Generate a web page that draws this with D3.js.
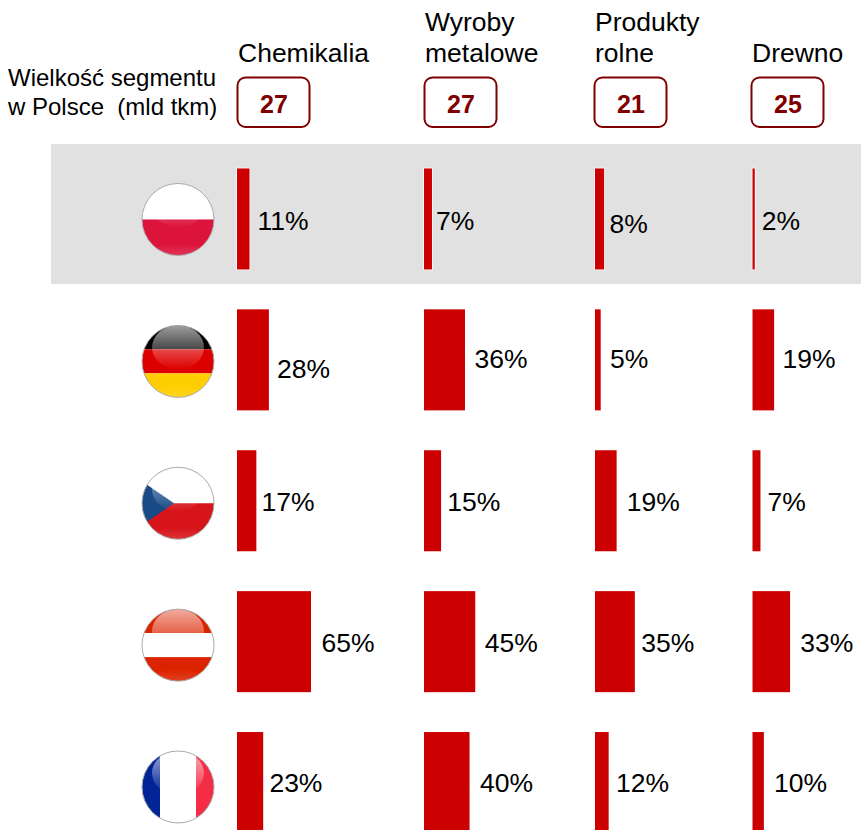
<!DOCTYPE html>
<html>
<head>
<meta charset="utf-8">
<script src="https://cdn.jsdelivr.net/npm/d3@7"></script>
<style>
  html, body { margin: 0; padding: 0; background: #fff; overflow: hidden; }
  svg { display: block; }
  text { font-family: "Liberation Sans", Arial, sans-serif; fill: #000; }
</style>
</head>
<body>
<div id="chart"></div>
<script>
const categories = [['Chemikalia'], ['Wyroby', 'metalowe'], ['Produkty', 'rolne'], ['Drewno']];
const segmentSizes = [27, 27, 21, 25];
const countries = ['PL', 'DE', 'CZ', 'AT', 'FR'];
const shares = [
  [11, 7, 8, 2],
  [28, 36, 5, 19],
  [17, 15, 19, 7],
  [65, 45, 35, 33],
  [23, 40, 12, 10]
];

// hand placed labels in the original: start from column left, shift from bar centre
const labelStart = [
  [20.5, 12, 14.5, 9.3],
  [40, 50.5, 15, 30],
  [24.5, 23.2, 31.8, 15],
  [84.5, 60.8, 46.2, 47.8],
  [32.4, 56, 21, 21.5]
];
const labelShift = [
  [2, 2, 5, 2],
  [9, -1, -1, -1],
  [1, 1, 1, 1],
  [1, 1, 1, 1],
  [0, 0, 0, 0]
];

const width = 861;
const height = 830;
const barRed = '#cc0000';
const boxRed = '#800000';

const svg = d3.select('#chart').append('svg')
    .attr('width', width)
    .attr('height', height);

const defs = svg.append('defs');

// Scales
const colX = d3.scaleOrdinal().domain(d3.range(4)).range([237, 424, 595, 752.5]);
const headX = d3.scaleOrdinal().domain(d3.range(4)).range([238, 425, 595, 752]);
const barW = d3.scaleLinear().domain([0, 65]).range([0, 74]);
const rowY = d3.scaleBand().domain(countries).range([148.5, 853]).paddingInner(0.283).paddingOuter(0.1415);
const flagY = d3.scalePoint().domain(countries).range([219.5, 787]);

// Grey band behind Poland
svg.append('rect')
    .attr('x', 51).attr('y', 144)
    .attr('width', width - 51).attr('height', 140)
    .attr('fill', '#e1e1e1');

// Left header
svg.selectAll('.seg-label')
    .data(['Wielkość segmentu', 'w Polsce  (mld tkm)'])
    .join('text')
    .attr('class', 'seg-label')
    .attr('x', 8)
    .attr('y', (d, i) => 86 + i * 29)
    .attr('font-size', 24)
    .style('white-space', 'pre')
    .text(d => d);

// Category headers with size boxes
const cols = svg.selectAll('.col')
    .data(categories)
    .join('g')
    .attr('class', 'col')
    .attr('transform', (d, i) => `translate(${headX(i)}, 0)`);

cols.each(function(lines) {
  d3.select(this).selectAll('text')
      .data(lines)
      .join('text')
      .attr('y', (d, i) => 62 - (lines.length - 1 - i) * 31)
      .attr('font-size', 26.5)
      .text(d => d);
});

cols.append('rect')
    .attr('x', -0.5).attr('y', 77.5)
    .attr('width', 72).attr('height', 49.5)
    .attr('rx', 8)
    .attr('fill', '#fff')
    .attr('stroke', boxRed)
    .attr('stroke-width', 2);

cols.append('text')
    .attr('x', 36).attr('y', 113)
    .attr('text-anchor', 'middle')
    .attr('font-size', 25)
    .attr('font-weight', 'bold')
    .style('fill', boxRed)
    .text((d, i) => segmentSizes[i]);

// Bars and labels
countries.forEach((c, r) => {
  const g = svg.append('g').attr('class', 'row-' + c);

  g.selectAll('rect')
      .data(shares[r])
      .join('rect')
      .attr('x', (d, i) => colX(i))
      .attr('y', rowY(c))
      .attr('width', d => barW(d))
      .attr('height', rowY.bandwidth())
      .attr('fill', barRed)
      .attr('stroke', '#fff')
      .attr('stroke-width', 1.5)
      .style('paint-order', 'stroke');

  g.selectAll('text')
      .data(shares[r])
      .join('text')
      .attr('x', (d, i) => colX(i) + labelStart[r][i])
      .attr('y', (d, i) => rowY(c) + rowY.bandwidth() / 2 + labelShift[r][i])
      .attr('dy', '0.35em')
      .attr('font-size', 26.5)
      .text(d => d + '%');
});

// Flags
const flagR = 36;
const flagX = 178;

const gloss = defs.append('linearGradient')
    .attr('id', 'gloss').attr('x1', 0).attr('y1', 0).attr('x2', 0).attr('y2', 1);
gloss.append('stop').attr('offset', 0).attr('stop-color', '#fff').attr('stop-opacity', 0.62);
gloss.append('stop').attr('offset', 1).attr('stop-color', '#fff').attr('stop-opacity', 0);

const foot = defs.append('linearGradient')
    .attr('id', 'foot').attr('x1', 0).attr('y1', 0).attr('x2', 0).attr('y2', 1);
foot.append('stop').attr('offset', 0).attr('stop-color', '#fff').attr('stop-opacity', 0);
foot.append('stop').attr('offset', 1).attr('stop-color', '#fff').attr('stop-opacity', 0.45);

defs.append('clipPath').attr('id', 'disc')
    .append('circle').attr('r', flagR);

const flagPainters = {
  PL: g => {
    hStripes(g, ['#ffffff', '#dc143c'], [-36, 0, 36]);
  },
  DE: g => {
    hStripes(g, ['#000000', '#dd0000', '#ffce00'], [-36, -12, 12, 36]);
  },
  CZ: g => {
    hStripes(g, ['#ffffff', '#d7141a'], [-36, 0, 36]);
    g.append('path').attr('d', 'M-36,-22L-4,0L-36,22Z').attr('fill', '#174a86');
  },
  AT: g => {
    hStripes(g, ['#dc2300', '#ffffff', '#dc2300'], [-36, -12, 12, 36]);
  },
  FR: g => {
    const x = [-36, -18, 18, 36];
    ['#002395', '#ffffff', '#f42c45'].forEach((col, i) => {
      g.append('rect').attr('x', x[i]).attr('y', -36)
          .attr('width', x[i + 1] - x[i]).attr('height', 72).attr('fill', col);
    });
  }
};

function hStripes(g, colors, ys) {
  colors.forEach((col, i) => {
    g.append('rect').attr('x', -36).attr('y', ys[i])
        .attr('width', 72).attr('height', ys[i + 1] - ys[i]).attr('fill', col);
  });
}

countries.forEach(c => {
  const g = svg.append('g').attr('transform', `translate(${flagX}, ${flagY(c)})`);
  const inner = g.append('g').attr('clip-path', 'url(#disc)');
  flagPainters[c](inner);
  // shine on top, lighter rim at the bottom
  inner.append('ellipse')
      .attr('cx', 0).attr('cy', -14)
      .attr('rx', 26).attr('ry', 22)
      .attr('fill', 'url(#gloss)');
  inner.append('ellipse')
      .attr('cx', 0).attr('cy', 44)
      .attr('rx', 34).attr('ry', 20)
      .attr('fill', 'url(#foot)');
  g.append('circle')
      .attr('r', flagR)
      .attr('fill', 'none')
      .attr('stroke', '#aaa')
      .attr('stroke-width', 1);
});
</script>
</body>
</html>
